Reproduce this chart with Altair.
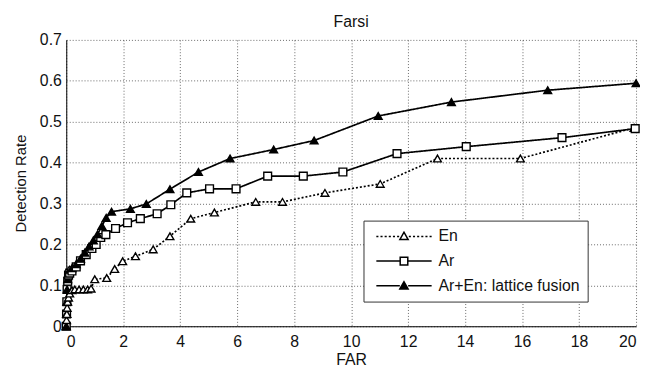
import altair as alt
import pandas as pd

# ---- data ----
series_names = ["En", "Ar", "Ar+En: lattice fusion"]

en_x = [0, 0.01, 0.02, 0.03, 0.05, 0.08, 0.12, 0.2, 0.3, 0.45, 0.6, 0.75, 0.87, 1.0,
        1.42, 1.7, 1.98, 2.43, 3.05, 3.64, 4.37, 5.2, 6.65, 7.59, 9.08, 11.02, 13.03,
        15.94, 19.93]
en_y = [0, 0.015, 0.03, 0.045, 0.06, 0.07, 0.08, 0.088, 0.09, 0.09, 0.09, 0.09, 0.092,
        0.115, 0.118, 0.14, 0.159, 0.171, 0.188, 0.22, 0.263, 0.278, 0.304, 0.304,
        0.326, 0.348, 0.41, 0.41, 0.485]

ar_x = [0, 0.01, 0.02, 0.03, 0.05, 0.08, 0.12, 0.2, 0.35, 0.5, 0.7, 0.9, 1.05, 1.21,
        1.39, 1.73, 2.15, 2.6, 3.19, 3.67, 4.23, 5.03, 5.96, 7.07, 8.32, 9.71, 11.61,
        14.04, 17.4, 19.97]
ar_y = [0, 0.03, 0.06, 0.09, 0.11, 0.125, 0.13, 0.135, 0.145, 0.16, 0.175, 0.19, 0.2,
        0.217, 0.224, 0.239, 0.253, 0.263, 0.275, 0.297, 0.326, 0.336, 0.336, 0.367,
        0.367, 0.377, 0.422, 0.439, 0.461, 0.483]

fu_x = [0, 0.01, 0.02, 0.03, 0.05, 0.08, 0.12, 0.2, 0.35, 0.5, 0.65, 0.8, 0.95, 1.1,
        1.25, 1.4, 1.59, 2.25, 2.81, 3.64, 4.64, 5.75, 7.28, 8.7, 10.95, 13.52, 16.9, 20]
fu_y = [0, 0.03, 0.06, 0.09, 0.115, 0.13, 0.138, 0.142, 0.152, 0.165, 0.18, 0.195, 0.21,
        0.225, 0.245, 0.265, 0.28, 0.287, 0.299, 0.335, 0.377, 0.41, 0.432, 0.454,
        0.514, 0.548, 0.577, 0.594]

x_ticks = list(range(0, 21, 2))
y_ticks = [0, 0.1, 0.2, 0.3, 0.4, 0.5, 0.6, 0.7]

rows = []
for name, xs, ys in zip(series_names, [en_x, ar_x, fu_x], [en_y, ar_y, fu_y]):
    for i, (a, b) in enumerate(zip(xs, ys)):
        rows.append({"series": name, "x": a, "y": b, "idx": i})
df = pd.DataFrame(rows)
legend_df = pd.DataFrame({"legend_series": series_names, "x": [0, 0, 0], "y": [0, 0, 0]})

FONT = "Liberation Sans"

# ---- legend glyphs (line + marker) as custom symbol paths, unit = symbol radius ----
def dotted(a, b, dash=0.3, gap=0.3):
    s, p = "", a
    while p < b:
        e = min(p + dash, b)
        s += f"M{p:.2f},0L{e:.2f},0"
        p = e + gap
    return s

tri = "M2.4,0.45L3,-0.6L3.6,0.45Z"
sq = "M2.45,-0.55L3.55,-0.55L3.55,0.55L2.45,0.55Z"
sym_en = dotted(-1, 2.4) + dotted(3.7, 7) + tri
sym_ar = "M-1,0L2.45,0M3.55,0L7,0" + sq
sym_fu = "M-1,0L2.4,0M3.6,0L7,0" + tri

xs = alt.X("x:Q", scale=alt.Scale(domain=[0, 20], nice=False),
           axis=alt.Axis(values=x_ticks, title="FAR"))
ys = alt.Y("y:Q", scale=alt.Scale(domain=[0, 0.7], nice=False),
           axis=alt.Axis(values=y_ticks, title="Detection Rate",
                         labelExpr="datum.value == 0 ? '0' : format(datum.value, '.1f')"))

base = alt.Chart(df).encode(x=xs, y=ys, order="idx:Q")

lines = base.mark_line(color="black", strokeWidth=1.7).encode(
    strokeDash=alt.StrokeDash("series:N",
                              scale=alt.Scale(domain=series_names,
                                              range=[[2, 2], [1, 0], [1, 0]]),
                              legend=None),
    detail="series:N",
)

points = base.mark_point(filled=True, stroke="black", strokeWidth=1.4, size=62,
                         opacity=1).encode(
    shape=alt.Shape("series:N",
                    scale=alt.Scale(domain=series_names,
                                    range=["triangle-up", "square", "triangle-up"]),
                    legend=None),
    fill=alt.Fill("series:N",
                  scale=alt.Scale(domain=series_names,
                                  range=["white", "white", "black"]),
                  legend=None),
)

leg = alt.Legend(title=None, orient="none", legendX=301, legendY=183,
                 symbolSize=196, symbolStrokeWidth=1.5, symbolOffset=4,
                 labelOffset=48, padding=8, rowPadding=9,
                 labelFontSize=16, labelFont=FONT, labelColor="#111",
                 strokeColor="#333", fillColor="white")

legend_layer = alt.Chart(legend_df).transform_filter("datum.x > 100").mark_point(
    filled=False, color="black", strokeWidth=1.5, opacity=1).encode(
    x="x:Q", y="y:Q",
    shape=alt.Shape("legend_series:N",
                    scale=alt.Scale(domain=series_names, range=[sym_en, sym_ar, sym_fu]),
                    legend=leg),
    fill=alt.Fill("legend_series:N",
                  scale=alt.Scale(domain=series_names, range=["white", "white", "black"]),
                  legend=leg),
)

chart = alt.layer(lines, points, legend_layer).resolve_scale(
    shape="independent", fill="independent"
).properties(
    width=577, height=290,
    title=alt.TitleParams("Farsi", fontSize=16, font=FONT, fontWeight="normal",
                          color="#111", offset=2),
    autosize=alt.AutoSizeParams(type="none"),
    padding={"left": 59, "top": 30, "right": 4, "bottom": 42},
).configure_view(stroke=None).configure_axis(
    labelFont=FONT, titleFont=FONT, labelFontSize=16, titleFontSize=16,
    labelColor="#111", titleColor="#111", titleFontWeight="normal",
    grid=True, gridColor="#444", gridDash=[1, 2], gridOpacity=0.8, gridWidth=1,
    domainColor="black", domainWidth=1, ticks=False,
).configure_axisX(labelPadding=7, titlePadding=3).configure_axisY(
    labelPadding=5, titleFontSize=15, titlePadding=11
)

chart.save("out.html", embed_options={"renderer": "svg", "actions": False})
